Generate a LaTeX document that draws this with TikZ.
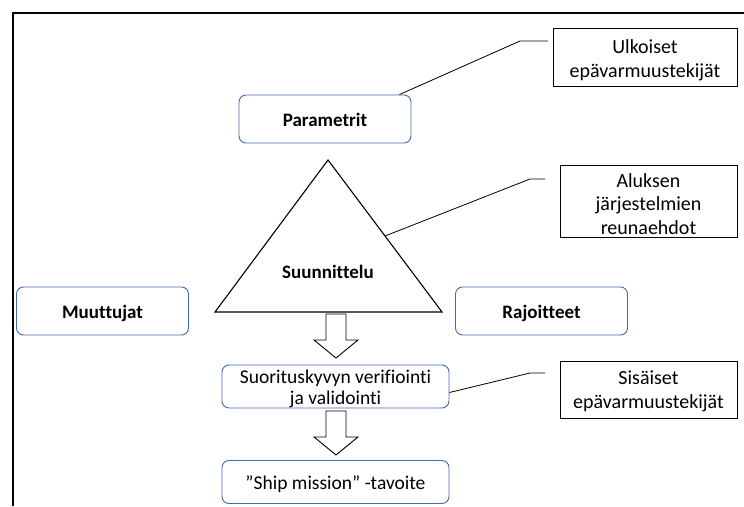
\documentclass[tikz,border=0pt]{standalone}
\usepackage{fontspec}
\setmainfont{Carlito}[Ligatures=NoCommon]
\usetikzlibrary{positioning,calc}

\definecolor{boxblue}{RGB}{68,106,172}

\tikzset{
  term/.style={draw=boxblue, line width=0.9pt, rounded corners=7pt,
    minimum width=172pt, minimum height=48pt, align=center,
    text height=17pt, text depth=2pt,
    font=\fontsize{19}{21}\selectfont\bfseries},
  stage/.style={term, minimum width=227pt, minimum height=43pt, inner sep=0pt,
    font=\fontsize{19.5}{21}\selectfont},
  factor/.style={draw, line width=0.8pt, inner sep=0pt},
  inlabel/.style={align=center, inner sep=0pt, yshift=-3pt,
    font=\fontsize{20}{24}\selectfont},
  callout/.style={line width=0.8pt}
}

\begin{document}
\begin{tikzpicture}[x=1pt,y=-1pt]

\useasboundingbox (0,0) rectangle (744,506);

% frame
\draw[line width=1.6pt] (13,506) -- (13,13) -- (744,13);

% triangle
\coordinate (apex) at (328,160);
\coordinate (left) at (215,312);
\coordinate (right) at (442,312);
\draw[line width=1.1pt] (apex) -- (right) -- (left) -- cycle;
\node[font=\fontsize{19}{21}\selectfont\bfseries, text height=17pt, text depth=2pt] (suun) at (328,271) {Suunnittelu};

\node[term] (param) at (325,119) {Parametrit};
\node[term] (muut) at (102.5,311) {Muuttujat};
\node[term] (rajo) at (541.5,311) {Rajoitteet};

\node[stage, label={[inlabel, yshift=1pt, font=\fontsize{19.5}{21}\selectfont]center:Suorituskyvyn verifiointi\\ja validointi}]
  (verif) at (335.5,386.5) {};
\node[stage] (ship) at (335.5,482) {”Ship mission” -tavoite};

\node[factor, minimum width=184pt, minimum height=58pt,
  label={[inlabel]center:Ulkoiset\\epävarmuustekijät}] (ulko) at (645,57) {};
\node[factor, minimum width=177pt, minimum height=72pt,
  label={[inlabel, font=\fontsize{20}{23.5}\selectfont]center:Aluksen\\järjestelmien\\reunaehdot}] (aluk) at (648.5,201) {};
\node[factor, minimum width=177pt, minimum height=57pt,
  label={[inlabel, yshift=1pt]center:Sisäiset\\epävarmuustekijät}] (sisa) at (648.5,389.5) {};

% callout lines
\coordinate (c1) at (520,41);
\coordinate (e1) at (548,41);
\coordinate (c2) at (530,179);
\coordinate (e2) at (545,179);
\coordinate (c3) at (530,373);
\coordinate (e3) at (545,373);
\coordinate (s2) at ($(apex)!0.5!(right)$);

\draw[callout] ($(param.north east)+(-12,0)$) -- (c1) -- (e1);
\draw[callout] (s2) -- (c2) -- (e2);
\draw[callout] ($(verif.east)+(0,6)$) -- (c3) -- (e3);

% block arrows
\foreach \ytop in {314,411} {
  \draw[line width=0.9pt, fill=white, shift={(336,\ytop)}]
    (-10,0) -- (10,0) -- (10,26) -- (22,26) -- (0,44)
    -- (-22,26) -- (-10,26) -- cycle;
}

\end{tikzpicture}
\end{document}
